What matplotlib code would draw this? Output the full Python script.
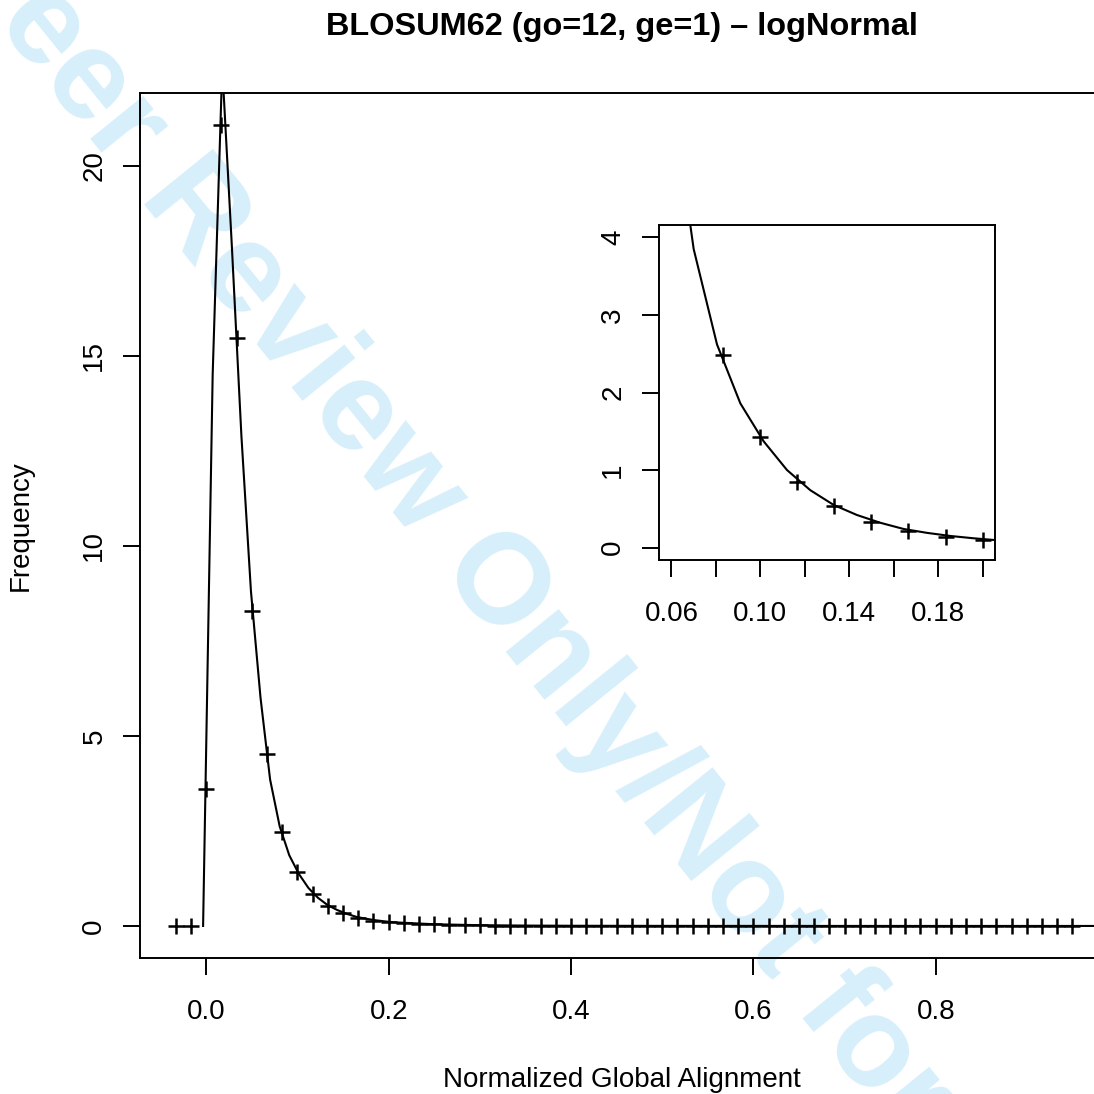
import matplotlib
matplotlib.use('Agg')
import matplotlib.pyplot as plt

plt.rcParams['font.family'] = ['Liberation Sans', 'DejaVu Sans']

# binned frequencies (markers)
bin_x = [k / 60 for k in range(-2, 58)]
bin_freq = [0, 0, 3.61, 21.07, 15.46, 8.28, 4.53, 2.48, 1.43, 0.85,
            0.53, 0.33, 0.21, 0.14, 0.10, 0.07, 0.05, 0.04, 0.03, 0.02,
            0.02, 0.01, 0.01, 0.01, 0.01, 0, 0, 0, 0, 0,
            0, 0, 0, 0, 0, 0, 0, 0, 0, 0,
            0, 0, 0, 0, 0, 0, 0, 0, 0, 0,
            0, 0, 0, 0, 0, 0, 0, 0, 0, 0]

# fitted logNormal curve
fit_x = [-0.0035, 0.007, 0.0175, 0.028, 0.0385, 0.049, 0.0595, 0.070,
         0.0805, 0.091, 0.1015, 0.112, 0.1225, 0.133, 0.1435, 0.154,
         0.1645, 0.175, 0.1855, 0.196, 0.2065, 0.25, 0.3, 0.35, 0.4,
         0.5, 0.6, 0.8, 1.0]
fit_y = [0, 14.5, 22.6, 17.9, 12.9, 8.8, 6.0, 3.85,
         2.62, 1.86, 1.37, 1.0, 0.74, 0.55, 0.42, 0.32,
         0.24, 0.19, 0.15, 0.12, 0.095, 0.045, 0.02, 0.01, 0.005,
         0.002, 0.001, 0, 0]

W = H = 1094
fig = plt.figure(figsize=(W / 100, H / 100), dpi=100)

def px_rect(l, r, t, b):
    return [l / W, 1 - b / H, (r - l) / W, (b - t) / H]

# watermark behind everything
fig.text(-59 / W, 1 + 45 / H, 'Peer Review Only/Not for Distribution',
         fontsize=92, fontweight='bold', color='#d6effa', rotation=-51,
         rotation_mode='anchor', ha='left', va='baseline', zorder=-5)

ax = fig.add_axes(px_rect(140, 1104, 93, 958))
ax.set_facecolor('none')
ax.plot(fit_x, fit_y, color='black', lw=1.5)
ax.plot(bin_x, bin_freq, ls='none', marker='+', ms=11, mew=1.8, color='black')
ax.set_xticks([0, 0.2, 0.4, 0.6, 0.8])
ax.set_xticklabels(['0.0', '0.2', '0.4', '0.6', '0.8'])
ax.set_yticks([0, 5, 10, 15, 20])
ax.set_yticklabels(['0', '5', '10', '15', '20'], rotation=90, va='center')
ax.set_xlim(-0.0727, 0.9846)
ax.set_ylim(-0.843, 21.91)
ax.tick_params(length=12.5, width=1.4, labelsize=20)
ax.tick_params(axis='x', pad=17)
ax.tick_params(axis='y', pad=11)
for s in ax.spines.values():
    s.set_linewidth(1.4)
ax.set_xlabel('Normalized Global Alignment', fontsize=20, labelpad=30)
ax.set_ylabel('Frequency', fontsize=20, labelpad=34)
fig.text(622 / W, 1 - 27 / H, 'BLOSUM62 (go=12, ge=1) \u2013 logNormal',
         fontsize=23.4, fontweight='bold', ha='center', va='center')

# zoomed inset
ins = fig.add_axes(px_rect(659, 995, 225, 560))
ins.set_facecolor('white')
ins.plot(fit_x, fit_y, color='black', lw=1.5)
ins.plot(bin_x, bin_freq, ls='none', marker='+', ms=11, mew=1.8, color='black')
ins_ticks = [0.06, 0.08, 0.10, 0.12, 0.14, 0.16, 0.18, 0.20]
ins.set_xticks(ins_ticks)
ins.set_xticklabels(['0.06', '', '0.10', '', '0.14', '', '0.18', ''])
ins.set_yticks([0, 1, 2, 3, 4])
ins.set_yticklabels(['0', '1', '2', '3', '4'], rotation=90, va='center')
ins.set_xlim(0.0544, 0.2056)
ins.set_ylim(-0.16, 4.16)
ins.tick_params(length=12.5, width=1.4, labelsize=20)
ins.tick_params(axis='x', pad=17)
ins.tick_params(axis='y', pad=11)
for s in ins.spines.values():
    s.set_linewidth(1.4)

fig.savefig('out.png', dpi=100)
